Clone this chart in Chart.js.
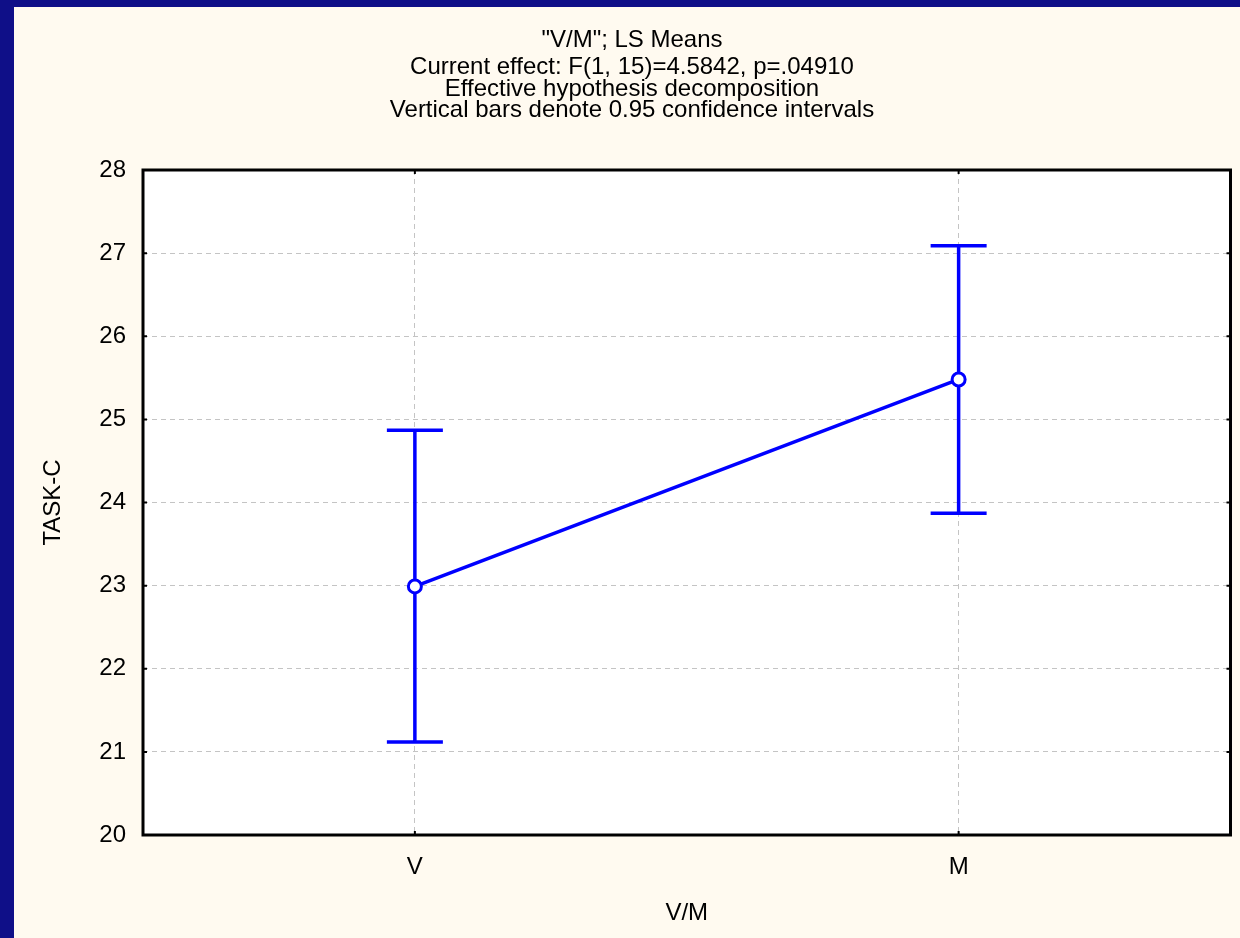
<!DOCTYPE html>
<html>
<head>
<meta charset="utf-8">
<script src="https://cdn.jsdelivr.net/npm/chart.js@4.4.1/dist/chart.umd.min.js"></script>
<style>
  html, body { margin: 0; padding: 0; background: #fffaf0; overflow: hidden; }
  #wrap { position: absolute; left: 0; top: 0; width: 1240px; height: 938px; }
</style>
</head>
<body>
<div id="wrap"><canvas id="c" width="1240" height="938"></canvas></div>
<script>
// LS means of TASK-C by V/M with 0.95 confidence limits
const categories = ['V', 'M'];
const lsMeans = [22.99, 25.48];
const ciLower = [21.12, 23.87];
const ciUpper = [24.87, 27.09];
const yTicks = [20, 21, 22, 23, 24, 25, 26, 27, 28];
const titleLines = [
  '"V/M"; LS Means',
  'Current effect: F(1, 15)=4.5842, p=.04910',
  'Effective hypothesis decomposition',
  'Vertical bars denote 0.95 confidence intervals'
];
const yAxisTitle = 'TASK-C';
const xAxisTitle = 'V/M';

const FONT = "'Liberation Sans', Arial, Helvetica, sans-serif";
const FONT_SIZE = 24;
const NAVY = '#0f0f88';
const CREAM = '#fffaf0';
const LINE_BLUE = '#0000ff';

// page frame, white plot background
const backdrop = {
  id: 'backdrop',
  beforeDraw(chart) {
    const { ctx, width, height, chartArea: a } = chart;
    ctx.save();
    ctx.fillStyle = CREAM;
    ctx.fillRect(0, 0, width, height);
    ctx.fillStyle = NAVY;
    ctx.fillRect(0, 0, width, 7);
    ctx.fillRect(0, 0, 14, height);
    ctx.fillStyle = '#ffffff';
    ctx.fillRect(a.left, a.top, a.right - a.left, a.bottom - a.top);
    ctx.restore();
  }
};

// whiskers for the confidence intervals, drawn beneath the mean line
const errorBars = {
  id: 'errorBars',
  beforeDatasetsDraw(chart) {
    const { ctx, scales: { x, y } } = chart;
    ctx.save();
    ctx.strokeStyle = LINE_BLUE;
    ctx.lineWidth = 3.5;
    ctx.lineCap = 'butt';
    const half = 28;
    categories.forEach((c, i) => {
      const px = x.getPixelForValue(i);
      const lo = y.getPixelForValue(ciLower[i]);
      const hi = y.getPixelForValue(ciUpper[i]);
      ctx.beginPath();
      ctx.moveTo(px, lo); ctx.lineTo(px, hi);
      ctx.moveTo(px - half, hi); ctx.lineTo(px + half, hi);
      ctx.moveTo(px - half, lo); ctx.lineTo(px + half, lo);
      ctx.stroke();
    });
    ctx.restore();
  }
};

// closed black box round the plot with small inward tick marks
const plotFrame = {
  id: 'plotFrame',
  afterDatasetsDraw(chart) {
    const { ctx, chartArea: a, scales: { x, y } } = chart;
    ctx.save();
    ctx.strokeStyle = '#000';
    ctx.lineWidth = 2;
    ctx.beginPath();
    y.ticks.forEach(t => {
      const py = y.getPixelForValue(t.value);
      ctx.moveTo(a.left, py); ctx.lineTo(a.left + 4, py);
      ctx.moveTo(a.right, py); ctx.lineTo(a.right - 4, py);
    });
    categories.forEach((c, i) => {
      const px = x.getPixelForValue(i);
      ctx.moveTo(px, a.bottom); ctx.lineTo(px, a.bottom - 4);
      ctx.moveTo(px, a.top); ctx.lineTo(px, a.top + 4);
    });
    ctx.stroke();
    ctx.lineWidth = 3;
    ctx.strokeRect(a.left, a.top, a.right - a.left, a.bottom - a.top);
    ctx.restore();
  }
};

// four-line heading above the plot
const heading = {
  id: 'heading',
  afterDraw(chart) {
    const { ctx } = chart;
    const cx = 632;
    const ys = [40, 67, 89, 110];
    ctx.save();
    ctx.fillStyle = '#000';
    ctx.font = FONT_SIZE + 'px ' + FONT;
    ctx.textAlign = 'center';
    ctx.textBaseline = 'middle';
    titleLines.forEach((t, i) => ctx.fillText(t, cx, ys[i]));
    ctx.restore();
  }
};

new Chart(document.getElementById('c'), {
  type: 'line',
  data: {
    labels: categories,
    datasets: [{
      data: lsMeans,
      borderColor: LINE_BLUE,
      borderWidth: 3.5,
      pointRadius: 6.5,
      pointHoverRadius: 6.5,
      pointBackgroundColor: '#ffffff',
      pointBorderColor: LINE_BLUE,
      pointBorderWidth: 3,
      tension: 0,
      fill: false
    }]
  },
  options: {
    responsive: false,
    animation: false,
    devicePixelRatio: 1,
    layout: { padding: { left: 14, top: 170, right: 8, bottom: 0 } },
    plugins: {
      legend: { display: false },
      tooltip: { enabled: false },
      title: { display: false }
    },
    scales: {
      x: {
        type: 'category',
        offset: true,
        grid: { color: '#c4c4c4', lineWidth: 1, drawTicks: false, offset: false },
        border: { display: false, dash: [5, 4] },
        ticks: { color: '#000', font: { family: FONT, size: FONT_SIZE }, padding: 18 },
        title: { display: true, text: xAxisTitle, color: '#000', font: { family: FONT, size: FONT_SIZE }, padding: { top: 0, bottom: 10 } },
        afterFit(scale) { scale.height = 103; }
      },
      y: {
        min: 20,
        max: 28,
        afterBuildTicks(scale) { scale.ticks = yTicks.map(v => ({ value: v })); },
        grid: { color: '#c4c4c4', lineWidth: 1, drawTicks: false },
        border: { display: false, dash: [5, 4] },
        ticks: { color: '#000', font: { family: FONT, size: FONT_SIZE }, padding: 17 },
        title: { display: true, text: yAxisTitle, color: '#000', font: { family: FONT, size: FONT_SIZE }, padding: { top: 25, bottom: 0 } },
        afterFit(scale) { scale.width = 129; }
      }
    }
  },
  plugins: [backdrop, errorBars, plotFrame, heading]
});
</script>
</body>
</html>
